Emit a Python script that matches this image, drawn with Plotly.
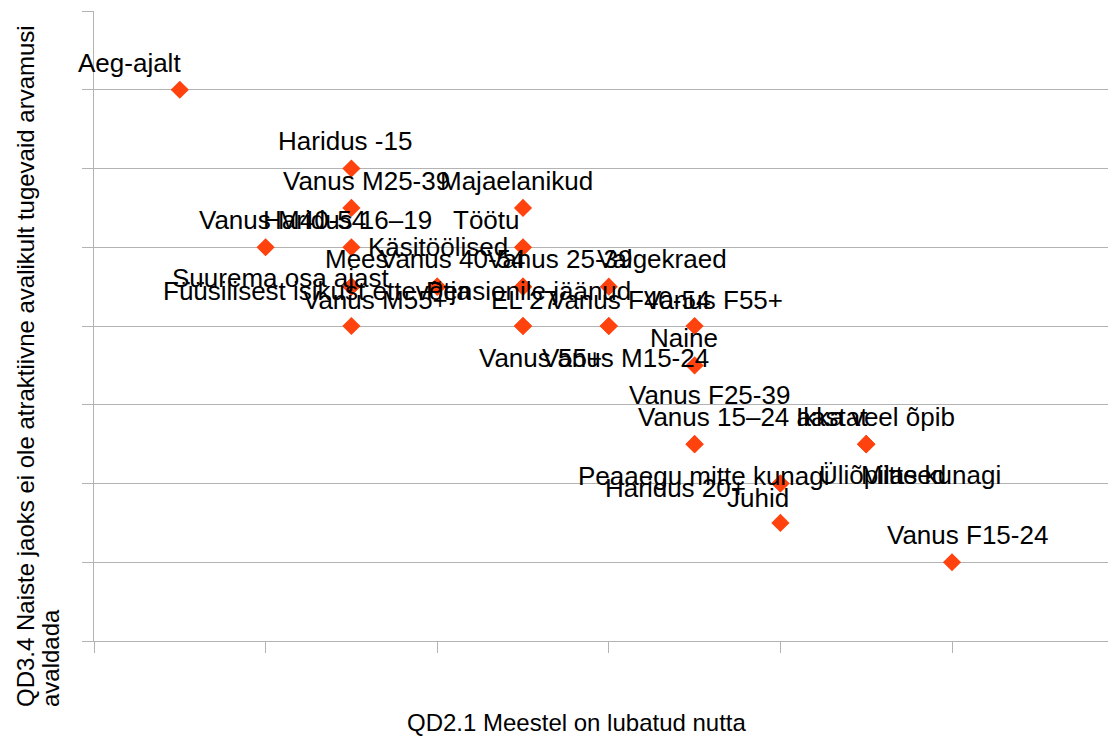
import plotly.graph_objects as go

# ---- data (axis units = one tick / one gridline) ----
labels = [
    "Aeg-ajalt", "Haridus -15", "Vanus M25-39", "Majaelanikud", "Vanus M40-54",
    "Haridus 16–19", "Töötu", "Käsitöölised", "Mees", "Vanus 40-54",
    "Vanus 25-39", "Valgekraed", "Suurema osa ajast", "Füüsilisest isikust ettevõtja",
    "Pensionile jäänud", "Vanus M55+", "EL 27", "Vanus F40-54", "Vanus F55+",
    "Naine", "Vanus 55+", "Vanus M15-24", "Vanus F25-39", "Vanus 15–24 aastat",
    "Ikka veel õpib", "Peaaegu mitte kunagi", "Haridus 20+", "Juhid",
    "Üliõpilased", "Mitte kunagi", "Vanus F15-24",
]
x_values = [
    0.5, 1.5, 1.5, 2.5, 1.0,
    1.5, 2.5, 2.0, 1.5, 2.0,
    2.5, 3.0, 1.5, 1.5,
    2.5, 1.5, 2.5, 3.0, 3.5,
    3.5, 2.5, 3.0, 3.5, 3.5,
    4.5, 4.0, 4.0, 4.0,
    4.5, 4.5, 5.0,
]
y_values = [
    7.0, 6.0, 5.5, 5.5, 5.0,
    5.0, 5.0, 4.5, 4.5, 4.5,
    4.5, 4.5, 4.5, 4.5,
    4.5, 4.0, 4.0, 4.0, 4.0,
    3.5, 4.0, 4.0, 2.5, 2.5,
    2.5, 2.0, 2.0, 1.5,
    2.5, 2.5, 1.0,
]
x_title = "QD2.1 Meestel on lubatud nutta"
y_title_lines = ["QD3.4 Naiste jaoks ei ole atraktiivne avalikult tugevaid arvamusi", "avaldada"]

# ---- label placement (pixel offsets of label centre from its point) ----
label_dx = [-50, -6, 15, -7, 17, -4, -37, 1, 6, 16, 37, 53, -70, -34, 5, 24, 1, 21, 19,
            -11, 17, 17, 15, 58, 9, -76, -105, -22, 16, 65, 15]
label_dy = [-27, -28, -27, -27, -27, -27, -27, -40, -28, -28, -28, -28, -9, 4, 4, -26, -26,
            -26, -26, -27, 32, 32, -49, -27, -27, -8, 4, -25, 31, 31, -27]

# page body has an 8px margin; compensate so the frame lands where the reference has it
OFF = 8
W, H = 1116 - OFF, 736 - OFF
L, R, T = 94 - OFF, 0, 11 - OFF
B = H - (641 - OFF)
px_per_x = 171.6
x_max = (W - L - R) / px_per_x

FONT = "Liberation Sans, Arial, sans-serif"
GRID = "#b3b3b3"

fig = go.Figure()
fig.add_trace(go.Scatter(
    x=x_values, y=y_values, mode="markers",
    marker=dict(symbol="diamond", size=14, color="#ff420e", line=dict(width=0)),
    hoverinfo="text", text=labels, showlegend=False,
))

annotations = []
for lab, xv, yv, dx, dy in zip(labels, x_values, y_values, label_dx, label_dy):
    annotations.append(dict(
        x=xv, y=yv, xref="x", yref="y", text=lab, showarrow=False,
        xanchor="center", yanchor="middle", xshift=dx, yshift=-dy,
        font=dict(family=FONT, size=26, color="#000000"),
    ))

plot_w = W - L - R
plot_h = H - T - B
def px_x(p):
    return (p - OFF - L) / plot_w
def px_y(p):
    return (H - B - (p - OFF)) / plot_h

annotations.append(dict(
    x=px_x(577), y=px_y(722), xref="paper", yref="paper", text=x_title,
    showarrow=False, xanchor="center", yanchor="middle",
    font=dict(family=FONT, size=24, color="#000000"),
))
for line, cx in zip(y_title_lines, [25, 50]):
    annotations.append(dict(
        x=px_x(cx), y=px_y(709), xref="paper", yref="paper", text=line,
        showarrow=False, textangle=-90, xanchor="center", yanchor="bottom",
        font=dict(family=FONT, size=24, color="#000000"),
    ))

fig.update_layout(
    width=W, height=H,
    margin=dict(l=L, r=R, t=T, b=B),
    paper_bgcolor="white", plot_bgcolor="white",
    font=dict(family=FONT, color="#000000"),
    annotations=annotations,
    xaxis=dict(range=[0, x_max], dtick=1, tick0=0, showgrid=False, zeroline=False,
               showline=True, linecolor=GRID, linewidth=1,
               ticks="outside", ticklen=11, tickcolor=GRID, showticklabels=False),
    yaxis=dict(range=[0, 8], dtick=1, tick0=0, showgrid=True, gridcolor=GRID, gridwidth=1,
               zeroline=False, showline=True, linecolor=GRID, linewidth=1,
               ticks="outside", ticklen=11, tickcolor=GRID, showticklabels=False),
)

fig.write_html("out.html")
